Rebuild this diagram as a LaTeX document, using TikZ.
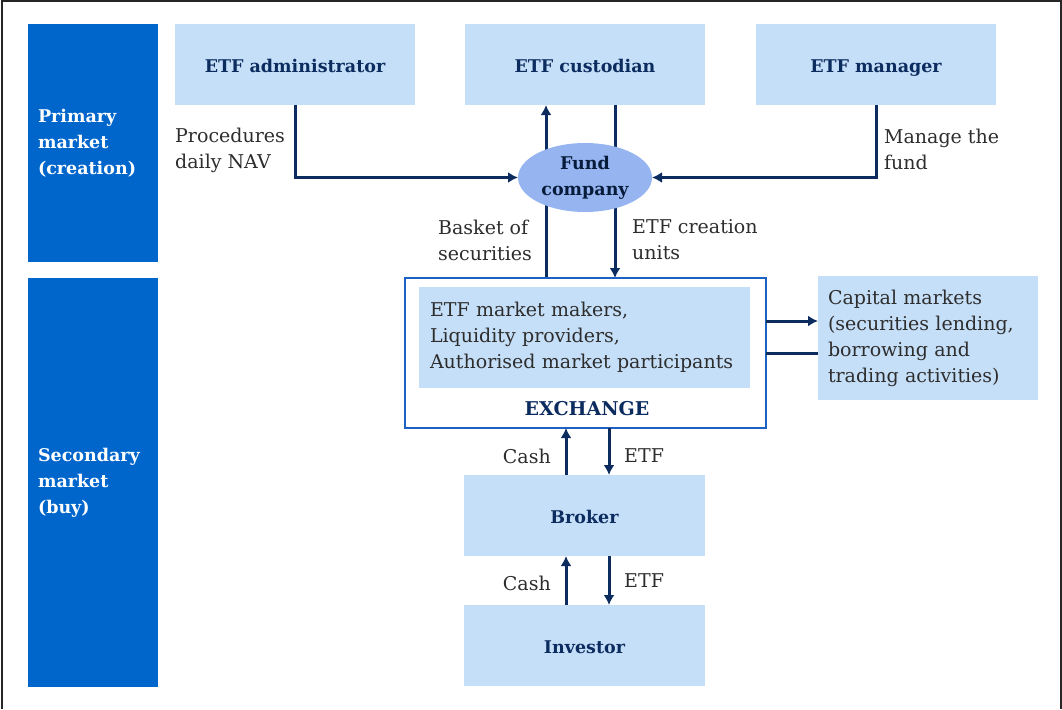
\documentclass[tikz,border=0pt]{standalone}
\usepackage{fontspec}
\setmainfont{DejaVu Serif}
\usepackage{tikz}
\usetikzlibrary{arrows.meta,positioning,calc,shapes.geometric,backgrounds}
\definecolor{barblue} {RGB}{0,102,204}
\definecolor{boxblue} {RGB}{198,223,248}
\definecolor{ovalblue}{RGB}{150,180,240}
\definecolor{navy}    {RGB}{12,44,96}
\definecolor{exblue}  {RGB}{28,98,196}
\definecolor{txtgray} {RGB}{45,45,45}
\newcommand{\diagfs}{\fontsize{19}{26}\selectfont}
\newcommand{\diagbf}{\fontsize{17.5}{26}\selectfont\bfseries}

\begin{document}
\begin{tikzpicture}[
  x=1pt,y=-1pt,
  bar/.style={fill=barblue,minimum width=130pt,text width=110pt,inner xsep=10pt,inner ysep=0pt,outer sep=0pt,text=white,font=\diagbf,align=left},
  box/.style={fill=boxblue,minimum width=240pt,minimum height=81pt,inner sep=0pt,outer sep=0pt,text=navy,font=\diagbf,text height=16pt,text depth=1pt},
  lbl/.style={anchor=west,inner sep=0pt,align=left,text=txtgray,font=\diagfs},
  arr/.style={-{Latex[length=10pt,width=11pt]},line width=3pt,draw=navy},
  ln/.style={line width=3pt,draw=navy}]
  \useasboundingbox(0,0) rectangle (1062,709);
  \draw[line width=2pt,draw=black!85](1.5,709)--(1.5,1.5)--(1060.5,1.5)--(1060.5,709);
  % market bars
  \node[bar,minimum height=238pt](prim) at(93,143){Primary\\market\\(creation)};
  \node[bar,minimum height=409pt](sec) at(93,482.5){Secondary\\market\\(buy)};
  % primary market
  \node[box](adm) at(295,64.5){ETF administrator};
  \node[box](cus) at(585,64.5){ETF custodian};
  \node[box](mgr) at(876,64.5){ETF manager};
  \node[ellipse,fill=ovalblue,minimum width=134pt,minimum height=69pt,inner sep=0pt,outer sep=0pt,
    text=navy!60!black,font=\diagbf,align=center](fund) at(585,177.5){Fund\\company};
  % exchange
  \node[draw=exblue,line width=1.6pt,minimum width=361pt,minimum height=150pt,inner sep=0pt,outer sep=0pt](exch) at(585.5,353){};
  \node[box,minimum width=331pt,minimum height=101pt,text width=309pt,inner xsep=11pt,align=left,font=\diagfs,text=txtgray,
    text height=,text depth=](mm) at(584.5,337.5)
    {ETF market makers,\\Liquidity providers,\\Authorised market participants};
  \node[text=navy,font=\fontsize{19}{26}\selectfont\bfseries,inner sep=0pt](exlbl) at(587,409){EXCHANGE};
  \node[box,minimum width=220pt,minimum height=124pt,text width=200pt,inner xsep=10pt,align=left,font=\diagfs,text=txtgray,
    text height=,text depth=](cap) at(928,338)
    {Capital markets\\(securities lending,\\borrowing and\\trading activities)};
  % secondary market
  \node[box,minimum width=241pt](brk) at(584.5,515.5){Broker};
  \node[box,minimum width=241pt](inv) at(584.5,645.5){Investor};
  % labels
  \node[lbl](nav) at(175,150.5){Procedures\\daily NAV};
  \node[lbl](mng) at(884,149){Manage the\\fund};
  \node[lbl](bsk) at(438,240){Basket of\\securities};
  \node[lbl](cru) at(632,240){ETF creation\\units};
  \node[lbl,anchor=east](cash1) at(551,456){Cash};
  \node[lbl](etf1) at(624,456){ETF};
  \node[lbl,anchor=east](cash2) at(551,583){Cash};
  \node[lbl](etf2) at(624,581){ETF};
  % connectors
  \coordinate(bx) at(546,0);\coordinate(ux) at(615,0);
  \coordinate(cx) at(566,0);\coordinate(ex) at(609,0);
  \coordinate(ya) at(0,321);\coordinate(yb) at(0,353);
  \draw[arr](adm.south)|-(fund.west);
  \draw[arr](mgr.south)|-(fund.east);
  \begin{pgfonlayer}{background}
    \draw[arr](exch.north -| bx)--(cus.south -| bx);
    \draw[arr](cus.south -| ux)--(exch.north -| ux);
  \end{pgfonlayer}
  \draw[arr](exch.east |- ya)--(cap.west |- ya);
  \draw[ln](cap.west |- yb)--(exch.east |- yb);
  \draw[arr](brk.north -| cx)--(exch.south -| cx);
  \draw[arr](exch.south -| ex)--(brk.north -| ex);
  \draw[arr](inv.north -| cx)--(brk.south -| cx);
  \draw[arr](brk.south -| ex)--(inv.north -| ex);
\end{tikzpicture}
\end{document}
